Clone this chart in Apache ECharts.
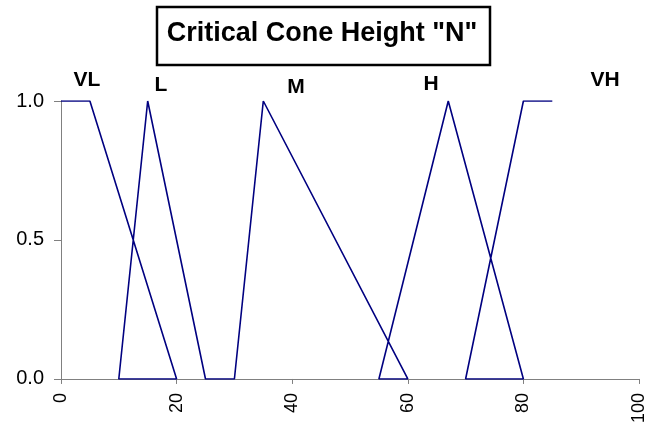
<!DOCTYPE html>
<html>
<head>
<meta charset="utf-8">
<script src="https://cdn.jsdelivr.net/npm/echarts@6/dist/echarts.min.js"></script>
<style>
  html, body { margin: 0; padding: 0; background: #fff; }
  #chart { width: 648px; height: 426px; }
</style>
</head>
<body>
<div id="chart"></div>
<script>
// membership functions drawn as one continuous line (Excel style)
var xValues = [0, 5, 20, 10, 15, 25, 30, 35, 60, 55, 67, 80, 70, 80, 85];
var yValues = [1, 1, 0, 0, 1, 0, 0, 1, 0, 0, 1, 0, 0, 1, 1];
var setNames = ['VL', 'L', 'M', 'H', 'VH'];
var xTicks = [0, 20, 40, 60, 80, 100];
var yTicks = [0, 0.5, 1];

var points = xValues.map(function (x, i) { return [x, yValues[i]]; });

var myChart = echarts.init(document.getElementById('chart'));
// label positions in px (x, y)
var labelPos = [[87, 80], [161, 85], [296, 87], [431, 84], [605, 80]];
var fontFam = '"Liberation Sans", Arial, sans-serif';

myChart.setOption({
    animation: false,
    grid: { left: 61, right: 9, top: 101, bottom: 46 },
    graphic: [
        {
            type: 'rect',
            shape: { x: 157, y: 7, width: 333, height: 58 },
            style: { fill: '#fff', stroke: '#000', lineWidth: 2.5 }
        },
        {
            type: 'text',
            x: 322, y: 34,
            style: {
                text: 'Critical Cone Height "N"',
                fill: '#000',
                font: 'bold 27px ' + fontFam,
                textAlign: 'center',
                textVerticalAlign: 'middle'
            }
        }
    ].concat(setNames.map(function (name, i) {
        return {
            type: 'text',
            x: labelPos[i][0], y: labelPos[i][1],
            style: {
                text: name,
                fill: '#000',
                font: 'bold 21px ' + fontFam,
                textAlign: 'center',
                textVerticalAlign: 'middle'
            }
        };
    })),
    xAxis: {
        type: 'value',
        min: 0,
        max: 100,
        interval: 20,
        axisLine: { show: true, onZero: false, lineStyle: { color: '#808080', width: 1 } },
        axisTick: { show: true, length: 5, lineStyle: { color: '#808080' } },
        axisLabel: {
            rotate: 90,
            color: '#000',
            fontSize: 18,
            fontFamily: fontFam,
            margin: 14,
            formatter: function (v) { return xTicks.indexOf(v) >= 0 ? String(v) : ''; }
        },
        splitLine: { show: false }
    },
    yAxis: {
        type: 'value',
        min: 0,
        max: 1,
        interval: 0.5,
        axisLine: { show: true, lineStyle: { color: '#808080', width: 1 } },
        axisTick: { show: true, length: 7, lineStyle: { color: '#808080' } },
        axisLabel: {
            color: '#000',
            fontSize: 20,
            fontFamily: fontFam,
            margin: 17,
            formatter: function (v) { return yTicks.indexOf(v) >= 0 ? v.toFixed(1) : ''; }
        },
        splitLine: { show: false }
    },
    series: [
        {
            type: 'line',
            data: points,
            symbol: 'none',
            lineStyle: { color: '#000080', width: 1.6 },
            z: 3
        }
    ]
});
</script>
</body>
</html>
